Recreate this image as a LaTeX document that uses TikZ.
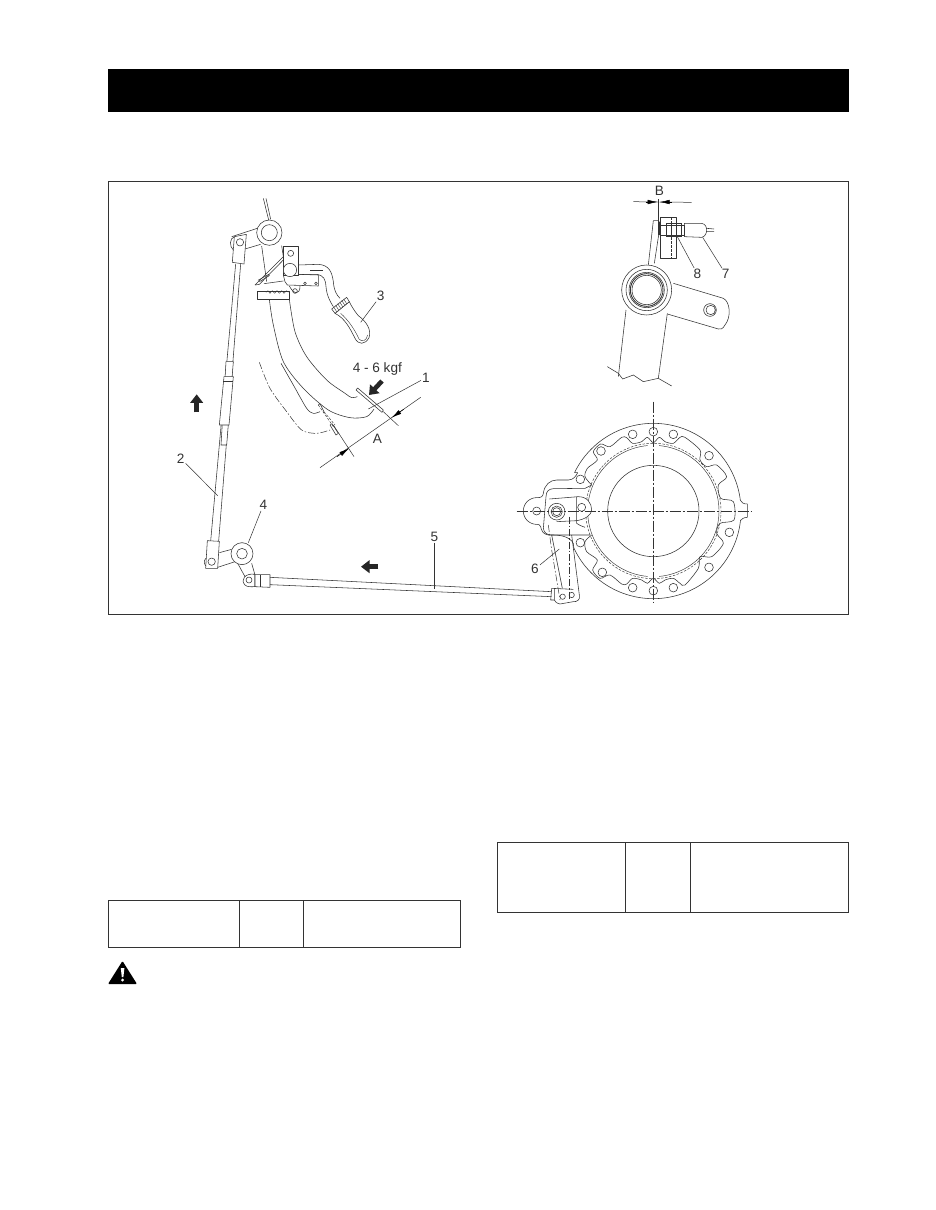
\documentclass[tikz,border=0pt]{standalone}
\usepackage{fontspec}
\setmainfont{Liberation Sans}
\usetikzlibrary{arrows.meta}
\definecolor{ink}{HTML}{333333}
\tikzset{
 ln/.style={draw=ink,line width=0.55pt,line join=round},
 thin line/.style={draw=ink,line width=0.5pt},
 frame line/.style={draw=ink,line width=1pt},
 lbl/.style={font=\fontsize{13.6}{15}\selectfont,text=ink,inner sep=1pt},
 leader/.style={draw=ink,line width=0.5pt},
 ghost/.style={draw=ink,line width=0.5pt,dash pattern=on 7pt off 2pt on 1.5pt off 2pt},
 center line/.style={draw=ink,line width=0.5pt,dash pattern=on 11pt off 2pt on 2pt off 2pt},
 dashline/.style={draw=ink,line width=0.45pt,dash pattern=on 2.5pt off 1.5pt},
 fat/.style={draw=black!85,line width=4.6pt,-{Triangle[width=12.5pt,length=8.5pt]}},
 dim/.style={draw=ink,line width=0.5pt},
 dimtip/.style={draw=black,line width=0.5pt,-{Latex[length=10pt,width=4.5pt]}},
 z1/.style={shift={(170,185)},x=0.33333pt,y=-0.33333pt},
 z2/.style={shift={(590,180)},x=0.33333pt,y=-0.33333pt},
 z3/.style={shift={(510,400)},x=0.33333pt,y=-0.33333pt},
 z4/.style={shift={(170,480)},x=0.33333pt,y=-0.33333pt},
}
\begin{document}
\begin{tikzpicture}[x=1pt,y=-1pt]
\useasboundingbox (0,0) rectangle (935,1210);
\fill[white] (0,0) rectangle (935,1210);
% page furniture
\fill[black] (108,69) rectangle (848.5,112);
\draw[frame line] (108.5,181.5) rectangle (848.5,614);
\draw[frame line] (108.5,900.5) rectangle (460.5,947);
\draw[frame line] (239,900.5) -- (239,947) (303.5,900.5) -- (303.5,947);
\draw[frame line] (497,842.5) rectangle (848.5,912.5);
\draw[frame line] (625.5,842.5) -- (625.5,912.5) (690.5,842.5) -- (690.5,912.5);
% warning sign
\fill[black,rounded corners=1pt] (108,984) -- (122.5,961) -- (137,984) -- cycle;
\fill[white] (120.8,968) -- (124.4,968) -- (123.4,977) -- (121.8,977) -- cycle;
\fill[white] (122.6,980) circle (1.6);

% ---------- pedal assembly
\begin{scope}[z1]
\draw[ln] (280,40) -- (296,105) (288,40) -- (302,103);
\draw[ln,fill=white] (298,143) circle (38);
\draw[ln] (298,143) circle (24);
% clevis and arm
\draw[ln] (185,155) -- (262,130) (225,192) -- (272,178);
\draw[ln] (193,155) .. controls (178,160) and (178,185) .. (190,195);
\draw[ln,fill=white] (193,155) -- (229,148) -- (222,237) -- (187,232) -- cycle;
\draw[ln] (210,172) circle (11);
% rod 2
\draw[ln] (197,237) -- (122,1068) (212,237) -- (146,1068);
% turnbuckle
\draw[ln,fill=white] (168,530) -- (190,530) -- (170,780) -- (153,780) -- cycle;
\draw[ln,fill=white] (162,575) -- (190,575) -- (177,720) -- (148,720) -- cycle;
\draw[ln] (160,590) -- (189,590);
% pedal arms
\draw[ln] (275,183) -- (290,290) plot[smooth] coordinates {(298,343) (310,420) (340,530) (400,610) (475,675) (540,698) (590,695) (612,672)};
\draw[ln] plot[smooth] coordinates {(358,343) (375,440) (410,515) (470,585) (525,625) (545,638) (562,635)};
\draw[ln] (335,182) -- (340,215);
% pedal pad
\draw[ln,fill=white] (558,615) -- (563,609) -- (640,675) -- (636,682) -- cycle;
% stop/cross bar
\draw[ln] (262,320) rectangle (358,343);
\draw[ln,line width=0.4pt] plot[smooth] coordinates {(288,322) (294,317) (300,325) (307,317) (314,325) (321,317) (328,325) (335,317) (342,325) (349,317) (355,322)};
% head
\draw[ln] (255,300) -- (340,215);
\draw[ln] (255,300) -- (268,298) -- (340,225);
\draw[ln] (264,286) -- (296,268) -- (298,272) -- (268,290);
\draw[ln] (282,296) -- (340,288);
\draw[ln] (385,240) -- (445,238) .. controls (478,240) and (486,262) .. (490,290) .. controls (492,315) and (498,328) .. (510,340);
\draw[ln] (385,268) -- (440,268) .. controls (462,272) and (466,282) .. (468,305) .. controls (470,330) and (480,350) .. (490,365);
\draw[ln,line width=1pt] (420,255) -- (458,255);
\draw[ln,fill=white] (340,185) -- (384,185) -- (384,270) -- (340,270) -- cycle;
\draw[ln] (362,205) circle (9);
\draw[ln,fill=white] (360,255) circle (20);
\draw[ln] (340,270) -- (345,290) -- (352,300) -- (445,303) -- (445,270) -- (385,268);
\draw[ln] (405,295) circle (4) (438,295) circle (4);
\draw[ln] (358,303) .. controls (372,330) and (390,330) .. (390,303);
\draw[ln] (375,318) circle (7);
% grip
\draw[ln,fill=white] (495,385) .. controls (525,400) and (540,430) .. (555,460) .. controls (565,480) and (585,480) .. (597,458) .. controls (605,435) and (590,410) .. (565,392) .. controls (555,380) and (545,365) .. (538,350) -- cycle;
\draw[ln,line width=0.4pt] (512,385) .. controls (535,405) and (555,435) .. (567,462) .. controls (575,472) and (590,468) .. (593,450);
\draw[ln,fill=white] (485,372) -- (530,337) -- (538,350) -- (495,385) -- cycle;
\draw[ln,line width=0.4pt] (491,366) -- (500,380) (497,361) -- (506,375) (503,356) -- (512,370) (509,351) -- (518,365) (515,346) -- (524,360) (521,342) -- (530,356);
% ghost pedal
\draw[ghost] plot[smooth] coordinates {(268,532) (300,610) (350,680) (395,735) (440,745) (480,735)};
\draw[ln] plot[smooth] coordinates {(333,535) (370,600) (410,670) (430,685) (450,680)};
\draw[ln] (445,660) -- (450,656) -- (462,680);
\draw[dashline] (445,660) -- (490,725) (462,680) -- (495,720);
\draw[ln] (480,720) -- (486,716) -- (505,745) -- (498,750) -- cycle;
% extension and dimension lines
\coordinate (extA1) at (490,720);
\coordinate (extA2) at (552,815);
\coordinate (extB1) at (640,680);
\coordinate (extB2) at (685,722);
\draw[thin line] (extA1) -- (extA2) (extB1) -- (extB2);
\coordinate (dimA1) at (450,848);
\coordinate (dimA2) at (752,637);
\coordinate (dimAp) at (537,790);
\coordinate (dimAt) at (501,815);
\coordinate (dimAq) at (665,698);
\coordinate (dimAu) at (701,673);
\draw[dim] (dimA1) -- (dimA2);
\draw[dimtip] (dimAt) -- (dimAp);
\draw[dimtip] (dimAu) -- (dimAq);
\coordinate (f1) at (636,588);
\coordinate (f2) at (597,630);
\draw[fat] (f1) -- (f2);
\coordinate (up1) at (80,682);
\coordinate (up2) at (80,628);
\draw[fat] (up1) -- (up2);
\node[lbl] (tforce) at (622,553) {4 - 6 kgf};
\node[lbl] (tA) at (622,760) {A};
\node[lbl] (t1) at (768,578) {1};
\node[lbl] (t3) at (632,332) {3};
\node[lbl] (t2) at (32,820) {2};
\coordinate (c1) at (595,672);
\coordinate (c3) at (572,412);
\coordinate (c2) at (143,932);
\draw[leader] (t1) -- (c1);
\draw[leader] (t3) -- (c3);
\draw[leader] (t2) -- (c2);
\end{scope}

% ---------- switch detail
\begin{scope}[z2]
\node[lbl] (tB) at (208,33) {B};
\coordinate (b1) at (130,65);
\coordinate (b2) at (305,67);
\coordinate (bp) at (203,66);
\coordinate (bq) at (209,66);
\coordinate (bt) at (167,66);
\coordinate (bu) at (245,66);
\draw[dim] (b1) -- (bp);
\draw[dim] (b2) -- (bq);
\draw[dimtip] (bt) -- (bp);
\draw[dimtip] (bu) -- (bq);
\draw[ln,line width=1pt] (205,58) -- (205,165);
\draw[ln] (190,122) -- (175,255) (190,122) -- (206,122) (206,165) -- (193,250);
\draw[ln,line width=1.2pt] (209,125) -- (208,165);
\draw[ln] (212,112) -- (258,112) -- (258,235) -- (212,235) -- cycle;
\draw[dashline] (243,112) -- (243,235);
\draw[ln,fill=white] (212,135) -- (283,135) -- (283,165) -- (212,165) -- cycle;
\draw[ln] (228,130) -- (228,170) (245,130) -- (245,170) (258,130) -- (258,170) (275,130) -- (275,170) (228,130) -- (275,130) (228,170) -- (275,170);
\draw[ln] (283,130) -- (335,130) .. controls (345,132) and (350,140) .. (350,150) .. controls (350,160) and (345,170) .. (335,172) -- (283,170) -- cycle;
\draw[ln] (350,145) -- (372,147) (350,155) -- (372,155);
% tube
\draw[ln] (108,390) -- (85,590) (232,400) -- (205,595);
\draw[ln] (52,560) -- (85,580) -- (98,597) -- (130,585) -- (160,605) -- (205,595) -- (245,618);
% arm
\draw[ln] (250,310) -- (400,355) .. controls (420,365) and (425,410) .. (405,435) .. controls (398,447) and (392,449) .. (385,447) -- (232,402);
\draw[ln] (360,390) circle (19) (362,390) circle (14);
% bearing
\draw[ln,fill=white] (170,330) circle (75);
\draw[ln] (170,330) circle (62) (170,330) circle (53);
\draw[ln,line width=0.9pt] (170,330) circle (49);
\draw[ln] (170,330) circle (44);
\node[lbl] (t7) at (407,282) {7};
\node[lbl] (t8) at (322,282) {8};
\coordinate (c7) at (338,172);
\coordinate (c8) at (262,170);
\draw[leader] (t7) -- (c7);
\draw[leader] (t8) -- (c8);
\end{scope}

% ---------- rear hub
\begin{scope}[z3]
\draw[ln] (80,293) .. controls (95,293) and (98,290) .. (100,280) .. controls (103,255) and (120,240) .. (140,240) -- (175,240) .. controls (190,240) and (198,228) .. (203,218)
 -- plot[domain=-154:-7,samples=90] ({430+263*cos(\x)},{333+263*sin(\x)})
 .. controls (695,308) and (700,312) .. (712,312) -- (712,352) .. controls (700,352) and (695,358) .. (691,362)
 -- plot[domain=6:155,samples=90] ({430+263*cos(\x)},{333+263*sin(\x)})
 .. controls (195,425) and (175,405) .. (130,405) -- (115,405) .. controls (98,403) and (94,390) .. (92,380) .. controls (90,373) and (85,373) .. (80,373)
 -- plot[domain=90:270,samples=40] ({80+40*cos(\x)},{333+40*sin(\x)});
\draw[ln] (80,333) circle (12);
% inner scalloped rib
\draw[ln] plot[smooth] coordinates {(245,255) (225,230) (232,205) (262,180) (250,155) (272,132) (300,140) (335,112) (350,113) (368,130) (395,125) (412,112) (430,128) (448,112) (465,125) (490,130) (510,112) (525,112) (570,150) (570,180) (590,200) (620,195) (650,230) (625,255) (632,295) (670,305) (672,360) (630,370) (620,400) (640,430) (605,470) (570,470) (565,505) (525,555) (510,550) (490,535) (465,540) (448,550) (430,535) (412,550) (395,540) (368,535) (350,552) (335,552) (300,525) (270,535) (248,510) (262,480) (230,455) (225,425) (245,405)};
\draw[ln] (430,333) circle (137);
\draw[dashline] (430,333) circle (203);
\draw[ln,line width=0.45pt] plot[domain=95:265,samples=60] ({430+197*cos(\x)},{333+197*sin(\x)});
\draw[ln,line width=0.45pt] plot[domain=-85:85,samples=60] ({430+197*cos(\x)},{333+197*sin(\x)});
\foreach \a/\b in {430/95,368/103,490/103,273/153,597/167,211/238,658/397,211/428,597/502,277/517,368/563,490/563,430/572}
  \draw[ln] (\a,\b) circle (13);
% bracket
\draw[ln] (108,290) -- (100,385) .. controls (102,398) and (110,405) .. (125,405) -- (240,405);
\draw[ln] (108,290) .. controls (108,272) and (118,267) .. (130,266) -- (225,265) -- (245,255);
% lever head
\draw[ln,fill=white] (118,297) -- (205,290) .. controls (232,290) and (245,310) .. (245,330) .. controls (245,345) and (225,358) .. (200,362) -- (140,365);
\draw[ln] (200,290) -- (200,370) .. controls (205,375) and (215,378) .. (225,382);
\draw[ln] (215,322) circle (12);
\draw[ln,fill=white] (140,335) circle (25);
\draw[ln] (140,335) circle (17) (140,335) circle (12);
% lever 6
\draw[ln] (125,405) -- (157,565) (185,405) -- (208,585);
\draw[ghost] (115,375) -- (125,450) -- (150,600);
\draw[ghost] (178,350) -- (178,600);
\draw[ln] (208,585) .. controls (212,600) and (200,606) .. (190,605) -- (150,612) .. controls (140,610) and (135,605) .. (133,600);
\draw[ln] (125,565) -- (190,568) (125,565) -- (122,600) -- (133,600) -- (133,565);
\draw[ln] (158,590) circle (8) (185,585) circle (8);
\node[lbl] (t6) at (75,507) {6};
\coordinate (c6) at (148,447);
\draw[leader] (t6) -- (c6);
% centre lines
\coordinate (cl1) at (430,5);
\coordinate (cl2) at (430,610);
\coordinate (cl3) at (20,333);
\coordinate (cl4) at (725,333);
\draw[center line] (cl1) -- (cl2);
\draw[center line] (cl3) -- (cl4);
\end{scope}

% ---------- lower link and rod 5
\begin{scope}[z4]
\draw[ln] (148,218) -- (185,208) (143,262) -- (195,245);
\draw[ln,fill=white] (112,182) -- (148,184) -- (143,265) -- (107,265) -- cycle;
\draw[ln] (107,235) .. controls (100,245) and (103,255) .. (107,258);
\draw[ln] (125,245) circle (11);
\draw[ln] (203,250) -- (225,290) (245,250) -- (255,285);
\draw[ln,fill=white] (216,221) circle (33);
\draw[ln] (216,221) circle (16);
\draw[ln,fill=white] (255,283) .. controls (225,278) and (210,300) .. (225,315) .. controls (232,322) and (245,320) .. (255,320) -- cycle;
\draw[ln] (237,300) circle (9);
\draw[ln,fill=white] (255,284) -- (300,284) -- (300,322) -- (255,320) -- cycle;
\draw[ln] (270,285) -- (270,321);
\draw[ln] (300,292) -- (1145,335) (300,314) -- (1145,350);
\node[lbl] (t4) at (280,75) {4};
\node[lbl] (t5) at (793,170) {5};
\coordinate (c4) at (235,188);
\coordinate (c5) at (793,328);
\draw[leader] (t4) -- (c4);
\draw[leader] (t5) -- (c5);
\coordinate (l1) at (625,260);
\coordinate (l2) at (573,260);
\draw[fat] (l1) -- (l2);
\end{scope}
\end{tikzpicture}
\end{document}
